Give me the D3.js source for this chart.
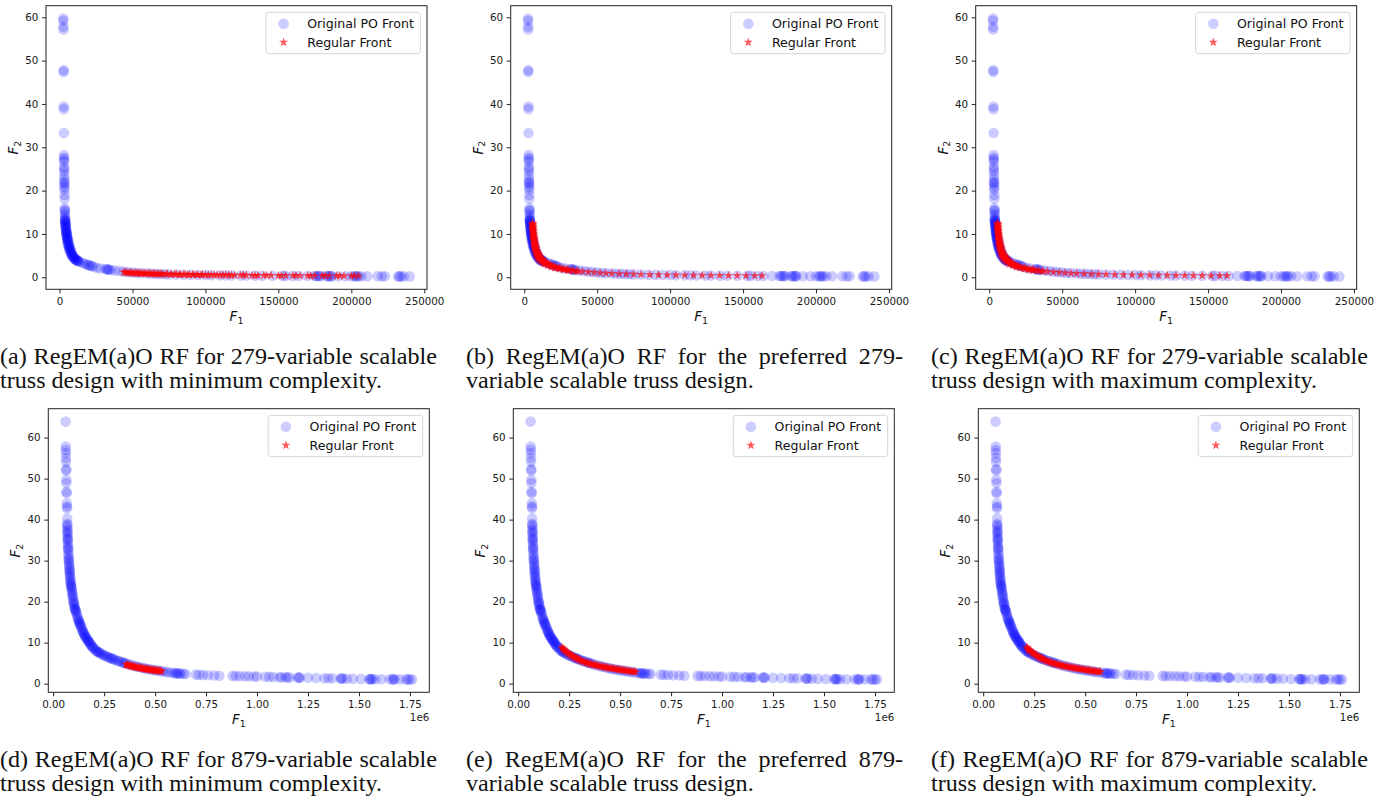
<!DOCTYPE html>
<meta charset="utf-8">
<script src="https://d3js.org/d3.v7.min.js"></script>
<style>
  body { margin: 0; background: #fff; }
  .tick text { font-family: "DejaVu Sans", sans-serif; font-size: 10.3px; fill: #1a1a1a; }
  .tick line { stroke: #222; }
</style>
<div id="fig"></div>
<script>

// ---------- data ----------
// [F1, F2] pairs

// original Pareto-optimal front, 279-variable truss (same in a, b, c)
var po279 = [[2600,59.7],[2600,59.2],[2700,57.8],[2700,57.2],[2800,47.8],[2800,47.4],[2900,39.4],[2900,38.8],[3000,33.3],[3000,28.2],
  [3100,27.6],[3100,27.2],[3100,26.7],[3200,25.5],[3200,25.0],[3200,24.4],[3300,23.5],[3300,22.6],[3300,22.0],[3300,21.8],
  [3400,21.3],[3400,20.7],[3400,20.2],[3500,19.0],[3500,18.1],[3600,15.9],[3600,15.5],[3700,15.2],[3700,14.6],[3800,14.1],
  [3700,13.5],[3900,13.3],[3800,13.1],[4000,13.0],[3900,12.9],[4100,12.6],[4000,12.4],[4200,12.2],[4100,12.0],[4300,11.8],
  [4200,11.6],[4500,11.3],[4300,11.1],[4600,10.9],[4400,10.7],[4800,10.5],[4600,10.3],[4900,10.2],[4700,10.0],[5100,9.8],
  [4900,9.6],[5300,9.4],[5000,9.2],[5500,9.0],[5200,8.9],[5700,8.7],[5400,8.5],[5900,8.3],[5600,8.1],[6200,7.9],
  [5800,7.7],[6500,7.5],[6000,7.3],[6800,7.1],[6300,7.0],[7100,6.8],[6600,6.6],[7500,6.4],[7000,6.2],[7900,6.0],
  [7400,5.9],[8300,5.6],[7800,5.5],[8800,5.2],[8200,5.2],[9400,4.9],[8700,4.9],[9300,4.6],[10200,4.5],[10000,4.3],
  [11000,4.2],[10800,4.1],[11800,4.0],[11500,3.9],[12600,3.8],[12200,3.8],[13000,3.7],[14000,3.5],[16000,3.3],[17500,3.1],
  [19000,2.9],[20000,2.8],[21000,2.7],[22000,2.6],[23000,2.5],[25500,2.2],[28000,2.0],[31500,1.9],[32500,1.85],[33000,1.8],
  [34000,1.75],[35000,1.7],[38000,1.55],[41000,1.45],[44000,1.3],[47000,1.2],[50000,1.1],[53000,1.0],[56000,0.95],[60000,0.9],
  [63000,0.82],[66000,0.78],[69000,0.74],[72000,0.7],[75000,0.66],[80000,0.62],[85000,0.58],[90000,0.55],[95000,0.52],[100000,0.5],
  [104000,0.48],[110000,0.45],[114000,0.44],[118000,0.42],[124000,0.4],[128000,0.39],[134000,0.37],[139000,0.36],[146000,0.34],[153000,0.33],
  [155000,0.32],[160000,0.31],[164000,0.3],[170000,0.29],[175000,0.28],[176000,0.28],[177000,0.28],[178000,0.27],[179000,0.27],[183000,0.27],
  [184000,0.26],[185000,0.26],[186000,0.26],[186500,0.26],[191000,0.25],[196000,0.25],[200000,0.24],[202000,0.24],[203000,0.24],[204000,0.24],
  [205000,0.23],[207000,0.23],[211000,0.22],[218000,0.22],[221000,0.21],[223000,0.21],[232000,0.2],[233000,0.2],[234000,0.2],[236000,0.2],
  [240000,0.2]];

// regular fronts, 279-variable truss
var rf279Min = [[44000,1.15],[45000,1.2],[46000,1.1],[47000,1.0],[48000,1.05],[49000,1.1],[50000,1.0],[51000,0.95],[52000,0.98],[53000,1.02],
  [54000,0.95],[55000,0.88],[56000,0.92],[57000,0.97],[58000,0.9],[59000,0.85],[60000,0.88],[61000,0.92],[62000,0.85],[63000,0.8],
  [64000,0.83],[65000,0.87],[66000,0.8],[67000,0.75],[68000,0.78],[69000,0.82],[70000,0.76],[71000,0.72],[73000,0.73],[74000,0.78],
  [76000,0.7],[77000,0.66],[79000,0.68],[80000,0.72],[82000,0.66],[83000,0.62],[85000,0.64],[86000,0.68],[88000,0.62],[89000,0.58],
  [91000,0.6],[92000,0.64],[94000,0.58],[95000,0.55],[97000,0.56],[98000,0.6],[100000,0.55],[102000,0.5],[104000,0.53],[106000,0.57],
  [108000,0.52],[110000,0.48],[112000,0.5],[114000,0.54],[116000,0.49],[118000,0.45],[120000,0.48],[124000,0.46],[126000,0.5],[128000,0.45],
  [132000,0.44],[134000,0.4],[136000,0.43],[140000,0.42],[142000,0.46],[145000,0.41],[150000,0.4],[152000,0.36],[155000,0.39],[160000,0.38],
  [162000,0.42],[165000,0.37],[170000,0.36],[172000,0.33],[175000,0.35],[180000,0.35],[182000,0.39],[185000,0.34],[190000,0.33],[192000,0.3],
  [195000,0.33],[200000,0.32],[202000,0.36],[205000,0.32]];

var rf279Pref = [[5800,12.5],[5600,12.3],[5850,12.2],[5900,12.0],[5950,11.7],[5700,11.6],[6000,11.5],[6050,11.2],[6100,11.0],[5800,10.8],
  [6150,10.7],[6200,10.5],[6300,10.2],[5900,10.0],[6400,10.0],[6500,9.7],[6600,9.5],[6000,9.3],[6700,9.2],[6800,9.0],
  [6900,8.7],[6200,8.6],[7000,8.5],[7150,8.2],[7300,8.0],[6400,7.8],[7450,7.7],[7600,7.5],[7800,7.2],[6700,7.2],
  [8000,7.0],[8200,6.7],[7000,6.6],[8400,6.5],[8650,6.2],[7500,6.0],[8900,6.0],[9200,5.7],[9500,5.5],[8000,5.4],
  [9850,5.2],[10200,5.0],[8600,4.9],[10600,4.8],[11000,4.6],[9300,4.5],[11500,4.4],[12000,4.2],[10000,4.1],[12600,4.0],
  [13200,3.8],[11000,3.7],[13800,3.6],[14500,3.4],[12500,3.3],[15200,3.25],[16000,3.1],[14000,3.0],[17000,2.95],[18000,2.8],
  [16000,2.7],[19000,2.65],[20000,2.5],[18500,2.4],[21200,2.38],[22500,2.25],[21000,2.15],[23800,2.15],[25000,2.05],[24000,1.95],
  [26500,1.95],[28000,1.85],[29500,1.78],[27000,1.75],[31000,1.7],[30000,1.6],[34000,1.55],[33000,1.5],[37000,1.42],[36000,1.4],
  [40000,1.32],[44000,1.2],[48000,1.1],[52000,1.0],[56000,0.93],[60000,0.87],[65000,0.8],[70000,0.74],[75000,0.69],[80000,0.65],
  [86000,0.61],[92000,0.57],[98000,0.54],[104000,0.51],[110000,0.49],[116000,0.47],[122000,0.45],[128000,0.43],[134000,0.42],[140000,0.4],
  [146000,0.39],[152000,0.38],[158000,0.37],[163000,0.36]];

// (c) reads the same as (b)
var rf279Max = rf279Pref;

// original Pareto-optimal front, 879-variable truss (same in d, e, f)
var po879 = [[61000,63.9],[61500,57.8],[62000,57.0],[62500,56.2],[63000,55.0],[63000,54.1],[64000,52.3],[64000,52.0],[64500,49.7],[65000,48.9],
  [65500,46.8],[66000,46.4],[67000,44.0],[67500,43.2],[68000,42.8],[68500,40.3],[69000,39.0],[69000,38.7],[69500,38.2],[70000,37.6],
  [70000,37.1],[70500,36.8],[70500,36.3],[71500,35.6],[71000,35.3],[71500,35.0],[72000,34.4],[72500,33.8],[73000,33.2],[73500,32.9],
  [74000,32.6],[74500,31.8],[75000,31.3],[76000,30.6],[76500,30.3],[77000,30.0],[78000,29.4],[78500,29.0],[79000,28.5],[80000,28.0],
  [80500,27.7],[81000,27.3],[81500,27.0],[82000,26.5],[83000,26.1],[83500,25.7],[84500,25.2],[85000,24.9],[86000,24.5],[87000,24.1],
  [88000,23.9],[89000,23.6],[90000,23.3],[91000,22.8],[92500,22.4],[94000,22.0],[95000,21.6],[96000,21.2],[97500,20.8],[99000,20.2],
  [100000,19.9],[101000,19.6],[103000,19.3],[104000,19.0],[106000,18.4],[107000,18.2],[109000,18.0],[110000,17.8],[112000,17.6],[114000,17.2],
  [117000,16.7],[120000,16.1],[122000,15.8],[124000,15.5],[126000,15.2],[128000,15.0],[130000,14.7],[132000,14.4],[134000,14.2],[137000,13.9],
  [140000,13.5],[143000,13.1],[145000,12.8],[147000,12.6],[150000,12.3],[152000,12.0],[155000,11.8],[158000,11.5],[160000,11.3],[163000,11.1],
  [167000,10.8],[170000,10.6],[173000,10.4],[175000,10.2],[178000,10.0],[182000,9.7],[185000,9.5],[188000,9.2],[192000,9.0],[196000,8.8],
  [200000,8.6],[207000,8.2],[211000,8.0],[216000,7.9],[220000,7.7],[225000,7.6],[230000,7.45],[235000,7.3],[245000,7.0],[250000,6.9],
  [255000,6.8],[265000,6.6],[270000,6.45],[278000,6.3],[284000,6.2],[290000,6.1],[296000,5.95],[302000,5.85],[315000,5.6],[320000,5.5],
  [328000,5.4],[340000,5.2],[345000,5.1],[350000,5.05],[360000,4.9],[372000,4.7],[385000,4.5],[398000,4.35],[410000,4.2],[422000,4.05],
  [435000,3.9],[448000,3.75],[460000,3.6],[472000,3.5],[485000,3.4],[498000,3.3],[510000,3.2],[522000,3.1],[535000,3.0],[548000,2.9],
  [560000,2.8],[575000,2.7],[590000,2.6],[600000,2.55],[605000,2.52],[610000,2.5],[620000,2.47],[625000,2.45],[640000,2.4],[650000,2.35],
  [700000,2.2],[715000,2.15],[735000,2.1],[760000,2.05],[790000,2.0],[815000,1.95],[880000,1.9],[895000,1.85],[915000,1.85],[940000,1.8],
  [960000,1.78],[985000,1.75],[1000000,1.72],[1040000,1.67],[1060000,1.65],[1080000,1.62],[1110000,1.58],[1120000,1.57],[1140000,1.55],[1150000,1.53],
  [1160000,1.52],[1200000,1.48],[1205000,1.48],[1210000,1.47],[1250000,1.43],[1290000,1.38],[1330000,1.34],[1350000,1.32],[1370000,1.3],[1410000,1.25],
  [1415000,1.25],[1420000,1.24],[1440000,1.22],[1470000,1.18],[1510000,1.14],[1550000,1.1],[1555000,1.1],[1560000,1.1],[1565000,1.09],[1580000,1.08],
  [1610000,1.07],[1650000,1.06],[1665000,1.05],[1670000,1.05],[1675000,1.05],[1700000,1.05],[1730000,1.04],[1740000,1.04],[1750000,1.04],[1760000,1.04]];

// regular fronts, 879-variable truss
var rf879Min = [[357000,4.65],[361000,4.6],[365000,4.55],[369000,4.5],[372000,4.45],[376000,4.4],[380000,4.35],[384000,4.3],[388000,4.25],[392000,4.2],
  [396000,4.15],[400000,4.1],[404000,4.05],[408000,4.01],[412000,3.97],[416000,3.93],[420000,3.9],[424000,3.86],[428000,3.82],[432000,3.78],
  [436000,3.75],[440000,3.71],[444000,3.68],[448000,3.64],[452000,3.6],[456000,3.57],[460000,3.54],[464000,3.51],[468000,3.48],[472000,3.45],
  [476000,3.42],[480000,3.39],[484000,3.36],[488000,3.33],[492000,3.3],[496000,3.27],[500000,3.25],[504000,3.22],[508000,3.2],[512000,3.17],
  [516000,3.15],[520000,3.12],[524000,3.1],[528000,3.07],[532000,3.05]];

var rf879Pref = [[214000,8.9],[218000,8.65],[222000,8.4],[226000,8.2],[230000,8.0],[235000,7.8],[240000,7.6],[245000,7.42],[250000,7.25],[255000,7.07],
  [260000,6.9],[265000,6.75],[270000,6.6],[275000,6.45],[280000,6.3],[285000,6.17],[290000,6.05],[295000,5.92],[300000,5.8],[306000,5.67],
  [312000,5.55],[318000,5.42],[324000,5.3],[330000,5.2],[336000,5.1],[342000,5.01],[348000,4.92],[354000,4.83],[360000,4.75],[366000,4.67],
  [372000,4.6],[378000,4.53],[384000,4.46],[390000,4.39],[396000,4.33],[402000,4.26],[408000,4.2],[414000,4.14],[420000,4.08],[426000,4.02],
  [432000,3.97],[438000,3.91],[444000,3.86],[450000,3.81],[456000,3.76],[462000,3.71],[468000,3.66],[474000,3.61],[480000,3.56],[486000,3.51],
  [492000,3.47],[498000,3.42],[504000,3.38],[510000,3.33],[516000,3.29],[522000,3.24],[528000,3.2],[534000,3.16],[540000,3.12],[546000,3.08],
  [552000,3.04],[558000,3.0],[564000,2.97],[570000,2.93],[576000,2.9]];

// (f) reads the same as (e)
var rf879Max = rf879Pref;

var xTicks279 = [0, 50000, 100000, 150000, 200000, 250000];
var xTicks879 = [0, 250000, 500000, 750000, 1000000, 1250000, 1500000, 1750000];
var yTicks = [0, 10, 20, 30, 40, 50, 60];
var legendLabels = ["Original PO Front", "Regular Front"];

var captions = [
  ["(a) RegEM(a)O RF for 279-variable scalable", "truss design with minimum complexity."],
  ["(b) RegEM(a)O RF for the preferred 279-", "variable scalable truss design."],
  ["(c) RegEM(a)O RF for 279-variable scalable", "truss design with maximum complexity."],
  ["(d) RegEM(a)O RF for 879-variable scalable", "truss design with minimum complexity."],
  ["(e) RegEM(a)O RF for the preferred 879-", "variable scalable truss design."],
  ["(f) RegEM(a)O RF for 879-variable scalable", "truss design with maximum complexity."]
];

// ---------- layout ----------
var width = 1392, height = 806;
var panelW = 381, panelH = 283.6;
var capWidth = 437;

var svg = d3.select("#fig")
  .append("svg")
    .attr("width", width)
    .attr("height", height);

var fmt279 = d3.format("d");
var fmt879 = function(v) { return (v / 1e6).toFixed(2); };

var panels = [
  {left: 46,    top: 5.7,   po: po279, rf: rf279Min,  ticks: xTicks279, fmt: fmt279, offset: false, capX: 0,   capY: 364},
  {left: 510.7, top: 5.7,   po: po279, rf: rf279Pref, ticks: xTicks279, fmt: fmt279, offset: false, capX: 466, capY: 364},
  {left: 975.7, top: 5.7,   po: po279, rf: rf279Max,  ticks: xTicks279, fmt: fmt279, offset: false, capX: 931, capY: 364},
  {left: 48.3,  top: 408.7, po: po879, rf: rf879Min,  ticks: xTicks879, fmt: fmt879, offset: true,  capX: 0,   capY: 767},
  {left: 513.3, top: 408.7, po: po879, rf: rf879Pref, ticks: xTicks879, fmt: fmt879, offset: true,  capX: 466, capY: 767},
  {left: 978.3, top: 408.7, po: po879, rf: rf879Max,  ticks: xTicks879, fmt: fmt879, offset: true,  capX: 931, capY: 767}
];

var star = d3.symbol().type(d3.symbolStar).size(26);

function mathLabel(sel, sub) {
  sel.append("tspan").attr("font-style", "italic").text("F");
  sel.append("tspan").attr("font-size", "70%").attr("dy", "0.28em").text(sub);
}

function drawPanel(p, i) {
  var g = svg.append("g")
    .attr("transform", "translate(" + p.left + "," + p.top + ")");

  // matplotlib-like autoscale: data extent + 5% margin
  var all = p.po.concat(p.rf);
  var xe = d3.extent(all, function(d) { return d[0]; });
  var ye = d3.extent(all, function(d) { return d[1]; });
  var xm = (xe[1] - xe[0]) * 0.05, ym = (ye[1] - ye[0]) * 0.05;

  var x = d3.scaleLinear().domain([xe[0] - xm, xe[1] + xm]).range([0, panelW]);
  var y = d3.scaleLinear().domain([ye[0] - ym, ye[1] + ym]).range([panelH, 0]);

  // original PO front
  g.append("g")
    .selectAll("circle")
    .data(p.po)
    .enter().append("circle")
      .attr("cx", function(d) { return x(d[0]); })
      .attr("cy", function(d) { return y(d[1]); })
      .attr("r", 5.3)
      .attr("fill", "blue")
      .attr("fill-opacity", 0.2);

  // regular front
  g.append("g")
    .selectAll("path")
    .data(p.rf)
    .enter().append("path")
      .attr("d", star)
      .attr("transform", function(d) { return "translate(" + x(d[0]) + "," + y(d[1]) + ")"; })
      .attr("fill", "red")
      .attr("fill-opacity", 0.65);

  // axes
  var xa = g.append("g")
    .attr("transform", "translate(0," + panelH + ")")
    .call(d3.axisBottom(x).tickValues(p.ticks).tickFormat(p.fmt).tickSize(4).tickPadding(4.4));
  var ya = g.append("g")
    .call(d3.axisLeft(y).tickValues(yTicks).tickSize(4).tickPadding(3.7));
  xa.select(".domain").remove();
  ya.select(".domain").remove();

  // frame
  g.append("rect")
    .attr("width", panelW)
    .attr("height", panelH)
    .attr("fill", "none")
    .attr("stroke", "#222")
    .attr("stroke-width", 1);

  // axis labels
  var xl = g.append("text")
    .attr("x", panelW / 2)
    .attr("y", panelH + 31.7)
    .attr("text-anchor", "middle")
    .style("font-family", "DejaVu Sans, sans-serif")
    .style("font-size", "13.5px")
    .attr("fill", "#111");
  mathLabel(xl, "1");

  var yl = g.append("text")
    .attr("transform", "translate(-28," + (panelH / 2) + ") rotate(-90)")
    .attr("text-anchor", "middle")
    .style("font-family", "DejaVu Sans, sans-serif")
    .style("font-size", "13.5px")
    .attr("fill", "#111");
  mathLabel(yl, "2");

  if (p.offset) {
    g.append("text")
      .attr("x", panelW)
      .attr("y", panelH + 28.7)
      .attr("text-anchor", "end")
      .style("font-family", "DejaVu Sans, sans-serif")
      .style("font-size", "10.3px")
      .attr("fill", "#1a1a1a")
      .text("1e6");
  }

  // legend
  var lw = 154.5, lh = 41.4;
  var lg = g.append("g")
    .attr("transform", "translate(" + (panelW - 6.6 - lw) + ",6.6)");
  lg.append("rect")
    .attr("width", lw)
    .attr("height", lh)
    .attr("rx", 3)
    .attr("fill", "white")
    .attr("fill-opacity", 0.8)
    .attr("stroke", "#d6d6d6");
  lg.append("circle")
    .attr("cx", 17.7).attr("cy", 11.4).attr("r", 5.3)
    .attr("fill", "blue").attr("fill-opacity", 0.2);
  lg.append("path")
    .attr("d", star)
    .attr("transform", "translate(17.7,30)")
    .attr("fill", "red").attr("fill-opacity", 0.65);
  lg.selectAll("text.lab")
    .data(legendLabels)
    .enter().append("text")
      .attr("class", "lab")
      .attr("x", 41.3)
      .attr("y", function(d, k) { return 11.4 + k * 18.6; })
      .attr("dy", "0.36em")
      .style("font-family", "DejaVu Sans, sans-serif")
      .style("font-size", "12.6px")
      .attr("fill", "#111")
      .text(function(d) { return d; });

  drawCaption(captions[i], p.capX, p.capY);
}

// caption: first line justified to the column width, second line left aligned
function drawCaption(lines, x0, y0) {
  var cg = svg.append("g")
    .style("font-family", "'Liberation Serif', 'Times New Roman', serif")
    .style("font-size", "24.1px")
    .attr("fill", "#111");

  var words = lines[0].split(" ");
  var texts = words.map(function(w) {
    return cg.append("text").attr("y", y0).text(w);
  });
  var lens = texts.map(function(t) { return t.node().getComputedTextLength(); });
  var gap = (capWidth - d3.sum(lens)) / (words.length - 1);
  var cx = x0;
  texts.forEach(function(t, k) {
    t.attr("x", cx);
    cx += lens[k] + gap;
  });

  cg.append("text")
    .attr("x", x0)
    .attr("y", y0 + 23.5)
    .text(lines[1]);
}

panels.forEach(drawPanel);

</script>
